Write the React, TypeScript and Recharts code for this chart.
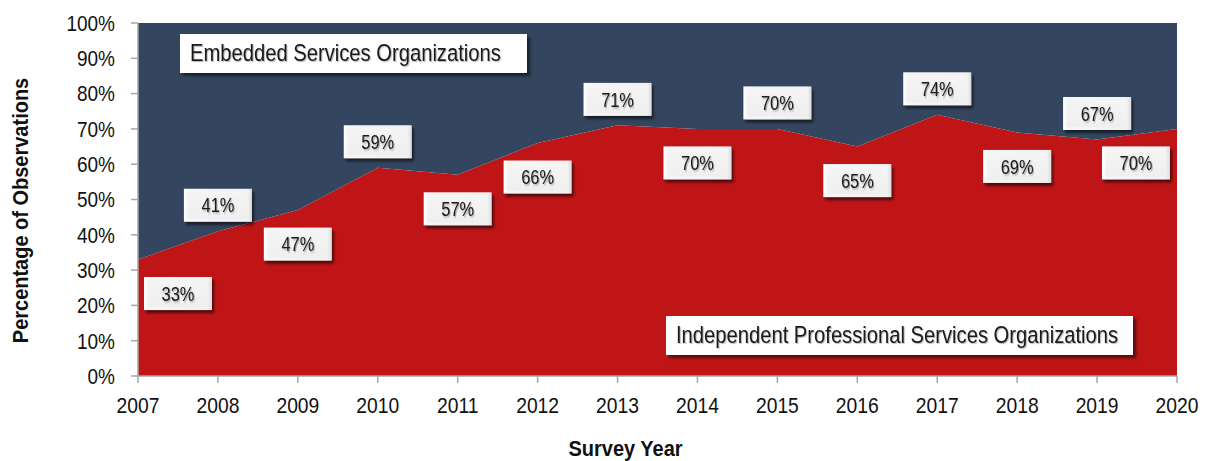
import React from 'react';
import { AreaChart, Area, XAxis, YAxis, LabelList } from 'recharts';

const years = ['2007', '2008', '2009', '2010', '2011', '2012', '2013', '2014', '2015', '2016', '2017', '2018', '2019', '2020'];
const independentShare = [33, 41, 47, 59, 57, 66, 71, 70, 70, 65, 74, 69, 67, 70];
const embeddedShare = [67, 59, 53, 41, 43, 34, 29, 30, 30, 35, 26, 31, 33, 30];
const labelPlacement = ['below', 'above', 'below', 'above', 'below', 'below', 'above', 'below', 'above', 'below', 'above', 'below', 'above', 'below'];
const yTicks = [0, 10, 20, 30, 40, 50, 60, 70, 80, 90, 100];

const data = years.map((year, i) => ({
  year,
  independent: independentShare[i],
  embedded: embeddedShare[i],
}));

const FONT = "'Liberation Sans', Arial, Helvetica, sans-serif";
const RED = '#bf1517';
const NAVY = '#34465f';
const AXIS = '#a6a6a6';
const TEXT = '#111111';

const WIDTH = 1205;
const HEIGHT = 461;
const MARGIN = { top: 23, right: 28, bottom: 0, left: 0 };
const Y_AXIS_W = 138;
const X_AXIS_H = 85;
const PLOT_LEFT = MARGIN.left + Y_AXIS_W;
const PLOT_RIGHT = WIDTH - MARGIN.right;
const PLOT_BOTTOM = HEIGHT - MARGIN.bottom - X_AXIS_H;
const STRETCH = 1.15;

function XTick(props: any) {
  const { x, payload } = props;
  return (
    <text
      transform={`translate(${x},${PLOT_BOTTOM + 37}) scale(1,${STRETCH})`}
      textAnchor="middle"
      fontFamily={FONT}
      fontSize={19.3}
      fill={TEXT}
    >
      {payload.value}
    </text>
  );
}

function YTick(props: any) {
  const { y, payload } = props;
  return (
    <text
      transform={`translate(${PLOT_LEFT - 23},${y + 7.8}) scale(1,${STRETCH})`}
      textAnchor="end"
      fontFamily={FONT}
      fontSize={19}
      fill={TEXT}
    >
      {`${payload.value}%`}
    </text>
  );
}

function XTitle() {
  const cx = (PLOT_LEFT + PLOT_RIGHT) / 2 - 32;
  return (
    <text
      transform={`translate(${cx},${HEIGHT - 5}) scale(1,1.08)`}
      textAnchor="middle"
      fontFamily={FONT}
      fontSize={20}
      fontWeight="bold"
      fill={TEXT}
    >
      Survey Year
    </text>
  );
}

function YTitle() {
  const cy = (MARGIN.top + PLOT_BOTTOM) / 2 + 11;
  return (
    <text
      transform={`translate(28,${cy}) rotate(-90) scale(1,1.08)`}
      textAnchor="middle"
      fontFamily={FONT}
      fontSize={20}
      fontWeight="bold"
      fill={TEXT}
    >
      Percentage of Observations
    </text>
  );
}

function ValueLabel(props: any) {
  const { x, y, value, index } = props;
  const w = 68;
  const h = 33;
  const above = labelPlacement[index] === 'above';
  const cy = above ? y - 26 : y + 34;
  let left = x - w / 2;
  left = Math.max(PLOT_LEFT + 6, Math.min(PLOT_RIGHT - 7 - w, left));
  const top = cy - h / 2;
  return (
    <g>
      <rect x={left} y={top} width={w} height={h} fill="url(#boxGrad)" filter="url(#boxShadow)" />
      <rect x={left + 4} y={top + 3} width={w - 8} height={h - 6} fill="url(#boxGradV)" />
      <text
        transform={`translate(${left + w / 2},${cy + 7.2}) scale(1,1.2)`}
        textAnchor="middle"
        fontFamily={FONT}
        fontSize={16.4}
        fill="#1c1c1c"
        style={{ filter: 'drop-shadow(1px 1px 0.7px rgba(0,0,0,0.35))' }}
      >
        {`${value}%`}
      </text>
    </g>
  );
}

const noteStyle: React.CSSProperties = {
  position: 'absolute',
  background: '#ffffff',
  boxShadow: '3px 3px 3px rgba(0,0,0,0.55)',
  fontFamily: FONT,
  fontSize: 20.2,
  color: '#1a1a1a',
  lineHeight: '39px',
  height: 39,
  boxSizing: 'border-box',
  paddingLeft: 10,
  textAlign: 'left',
  whiteSpace: 'nowrap',
  textShadow: '1px 1px 1px rgba(0,0,0,0.3)',
};

const stretchSpan: React.CSSProperties = {
  display: 'inline-block',
  transform: 'scaleY(1.16)',
  transformOrigin: 'center',
};

export default function App() {
  return (
    <div style={{ position: 'absolute', left: 0, top: 0, width: WIDTH, height: HEIGHT, background: '#ffffff' }}>
      <AreaChart width={WIDTH} height={HEIGHT} data={data} margin={MARGIN}>
        <defs>
          <linearGradient id="boxGrad" x1="0" y1="0" x2="1" y2="0">
            <stop offset="0%" stopColor="#ffffff" />
            <stop offset="6%" stopColor="#f6f6f6" />
            <stop offset="94%" stopColor="#f1f1f1" />
            <stop offset="100%" stopColor="#dcdcdc" />
          </linearGradient>
          <linearGradient id="boxGradV" x1="0" y1="0" x2="0" y2="1">
            <stop offset="0%" stopColor="#f5f5f5" />
            <stop offset="100%" stopColor="#efefef" />
          </linearGradient>
          <filter id="boxShadow" x="-20%" y="-30%" width="140%" height="170%">
            <feDropShadow dx="2" dy="3" stdDeviation="1.8" floodColor="#000000" floodOpacity="0.6" />
          </filter>
        </defs>
        <XAxis
          dataKey="year"
          height={X_AXIS_H}
          axisLine={{ stroke: AXIS, strokeWidth: 1.5 }}
          tickLine={{ stroke: AXIS, strokeWidth: 1.5 }}
          tickSize={7}
          interval={0}
          tick={<XTick />}
          label={{ value: 'Survey Year', content: <XTitle /> }}
        />
        <YAxis
          width={Y_AXIS_W}
          domain={[0, 100]}
          ticks={yTicks}
          interval={0}
          axisLine={{ stroke: AXIS, strokeWidth: 1.5 }}
          tickLine={{ stroke: AXIS, strokeWidth: 1.5 }}
          tickSize={7}
          tick={<YTick />}
          label={{ value: 'Percentage of Observations', content: <YTitle /> }}
        />
        <Area
          type="linear"
          dataKey="independent"
          stackId="share"
          stroke="none"
          fill={RED}
          fillOpacity={1}
          isAnimationActive={false}
        >
          <LabelList dataKey="independent" content={ValueLabel} />
        </Area>
        <Area
          type="linear"
          dataKey="embedded"
          stackId="share"
          stroke="none"
          fill={NAVY}
          fillOpacity={1}
          isAnimationActive={false}
        />
      </AreaChart>
      <div style={{ ...noteStyle, left: 180, top: 34, width: 347 }}>
        <span style={stretchSpan}>Embedded Services Organizations</span>
      </div>
      <div style={{ ...noteStyle, left: 666, top: 316, width: 467 }}>
        <span style={stretchSpan}>Independent Professional Services Organizations</span>
      </div>
    </div>
  );
}
